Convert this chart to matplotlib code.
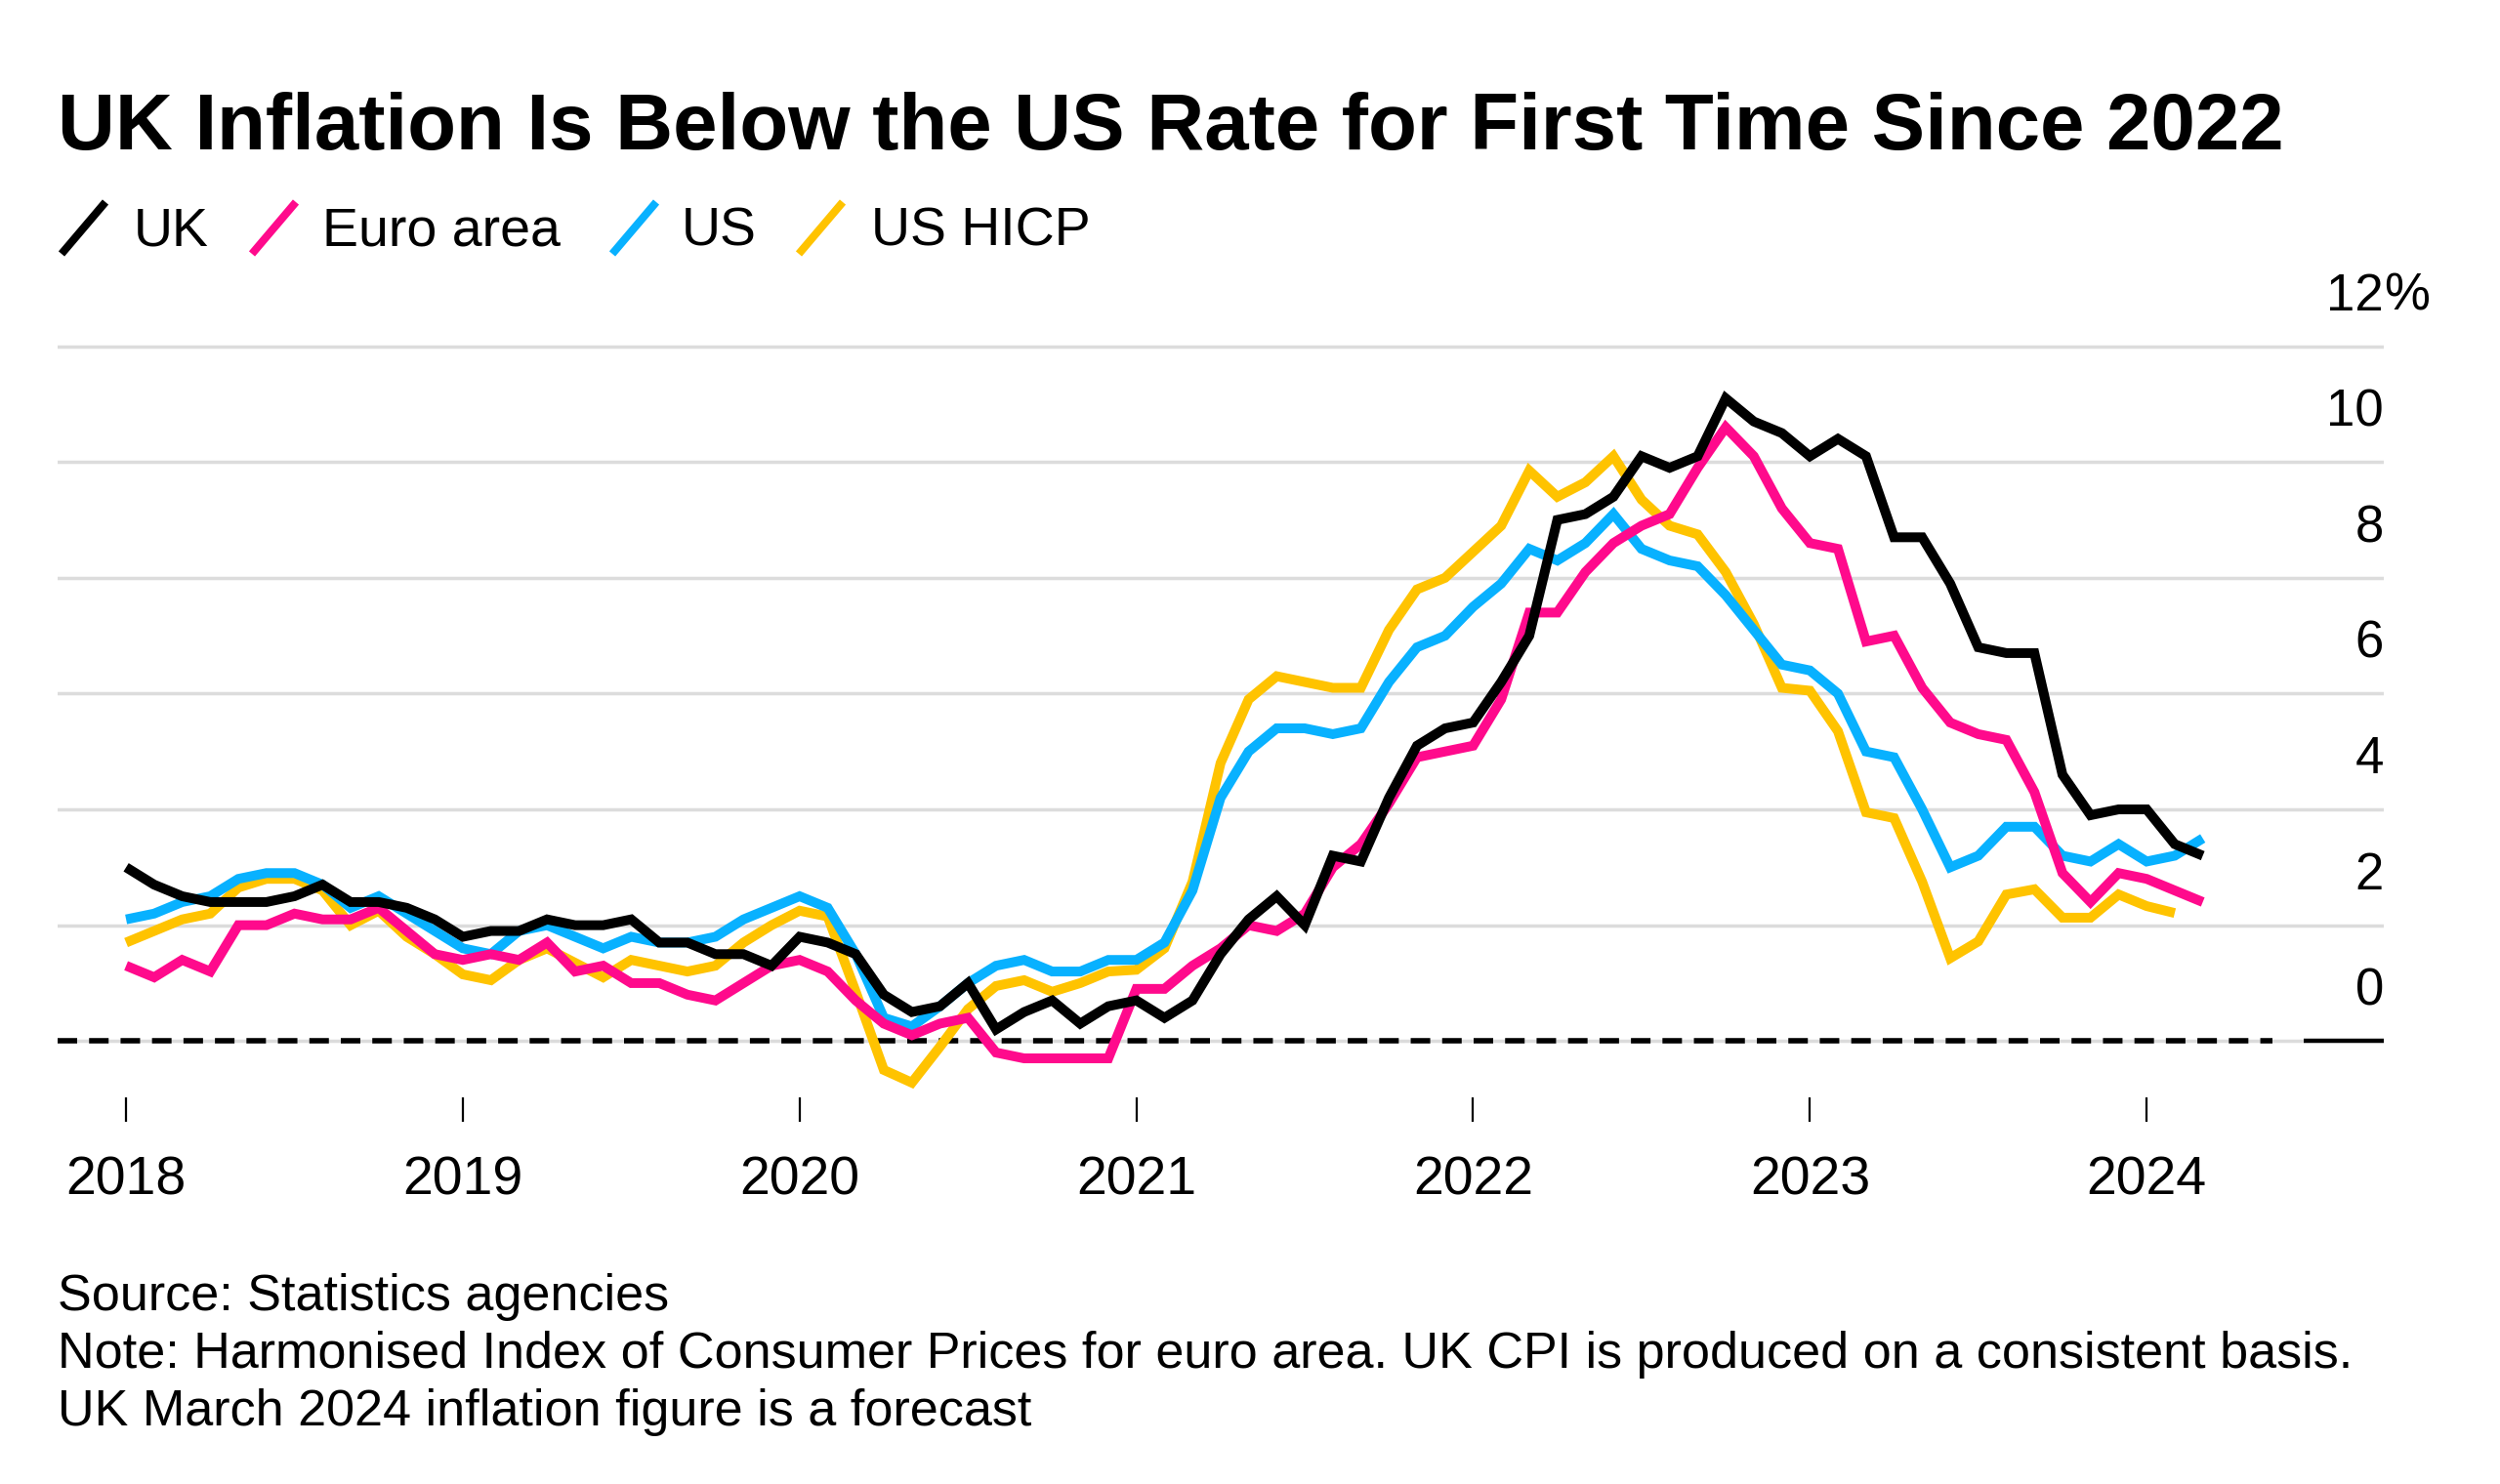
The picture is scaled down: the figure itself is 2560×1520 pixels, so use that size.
import matplotlib.pyplot as plt
from matplotlib.lines import Line2D

plt.rcParams['font.family'] = ['Liberation Sans', 'DejaVu Sans']

# monthly yoy inflation, Jan 2018 onwards
uk = [3.0, 2.7, 2.5, 2.4, 2.4, 2.4, 2.5, 2.7, 2.4, 2.4, 2.3, 2.1,
      1.8, 1.9, 1.9, 2.1, 2.0, 2.0, 2.1, 1.7, 1.7, 1.5, 1.5, 1.3,
      1.8, 1.7, 1.5, 0.8, 0.5, 0.6, 1.0, 0.2, 0.5, 0.7, 0.3, 0.6,
      0.7, 0.4, 0.7, 1.5, 2.1, 2.5, 2.0, 3.2, 3.1, 4.2, 5.1, 5.4,
      5.5, 6.2, 7.0, 9.0, 9.1, 9.4, 10.1, 9.9, 10.1, 11.1, 10.7, 10.5,
      10.1, 10.4, 10.1, 8.7, 8.7, 7.9, 6.8, 6.7, 6.7, 4.6, 3.9, 4.0,
      4.0, 3.4, 3.2]
euro = [1.3, 1.1, 1.4, 1.2, 2.0, 2.0, 2.2, 2.1, 2.1, 2.3, 1.9, 1.5,
        1.4, 1.5, 1.4, 1.7, 1.2, 1.3, 1.0, 1.0, 0.8, 0.7, 1.0, 1.3,
        1.4, 1.2, 0.7, 0.3, 0.1, 0.3, 0.4, -0.2, -0.3, -0.3, -0.3, -0.3,
        0.9, 0.9, 1.3, 1.6, 2.0, 1.9, 2.2, 3.0, 3.4, 4.1, 4.9, 5.0,
        5.1, 5.9, 7.4, 7.4, 8.1, 8.6, 8.9, 9.1, 9.9, 10.6, 10.1, 9.2,
        8.6, 8.5, 6.9, 7.0, 6.1, 5.5, 5.3, 5.2, 4.3, 2.9, 2.4, 2.9,
        2.8, 2.6, 2.4]
us = [2.1, 2.2, 2.4, 2.5, 2.8, 2.9, 2.9, 2.7, 2.3, 2.5, 2.2, 1.9,
      1.6, 1.5, 1.9, 2.0, 1.8, 1.6, 1.8, 1.7, 1.7, 1.8, 2.1, 2.3,
      2.5, 2.3, 1.5, 0.4, 0.25, 0.6, 1.0, 1.3, 1.4, 1.2, 1.2, 1.4,
      1.4, 1.7, 2.6, 4.2, 5.0, 5.4, 5.4, 5.3, 5.4, 6.2, 6.8, 7.0,
      7.5, 7.9, 8.5, 8.3, 8.6, 9.1, 8.5, 8.3, 8.2, 7.7, 7.1, 6.5,
      6.4, 6.0, 5.0, 4.9, 4.0, 3.0, 3.2, 3.7, 3.7, 3.2, 3.1, 3.4,
      3.1, 3.2, 3.5]
us_hicp = [1.7, 1.9, 2.1, 2.2, 2.65, 2.8, 2.8, 2.6, 2.0, 2.25, 1.8, 1.5,
           1.15, 1.05, 1.4, 1.6, 1.35, 1.1, 1.4, 1.3, 1.2, 1.3, 1.7, 2.0,
           2.25, 2.15, 0.85, -0.5, -0.72, -0.1, 0.55, 0.95, 1.05, 0.85, 1.0, 1.2,
           1.23, 1.6, 2.75, 4.8, 5.9, 6.3, 6.2, 6.1, 6.1, 7.1, 7.8, 8.0,
           8.45, 8.9, 9.85, 9.4, 9.65, 10.1, 9.35, 8.9, 8.75, 8.1, 7.2, 6.1,
           6.05, 5.35, 3.95, 3.85, 2.75, 1.43, 1.72, 2.53, 2.62, 2.13, 2.13, 2.53,
           2.33, 2.21]

series = [uk, euro, us, us_hicp]
names = ['UK', 'Euro area', 'US', 'US HICP']
colors = ['#000000', '#ff0a8c', '#08b1ff', '#ffc300']
zorders = [6, 5, 4, 3]

years = ['2018', '2019', '2020', '2021', '2022', '2023', '2024']
yticks = [0, 2, 4, 6, 8, 10, 12]

W, H = 2560, 1520
fig = plt.figure(figsize=(W / 100, H / 100), dpi=100)
ax = fig.add_axes([59 / W, 0.2443, (2441 - 59) / W, 0.5341])
ax.set_xlim(-2.44, 80.45)
ax.set_ylim(-1.39, 12.3)

for v in yticks:
    ax.axhline(v, color='#dcdcdc', lw=2.5, zorder=1)
    ax.annotate(str(v), xy=(1, v), xycoords=('axes fraction', 'data'),
                xytext=(0, 26.5), textcoords='offset points',
                ha='right', va='baseline', fontsize=38)
ax.annotate('%', xy=(1, yticks[-1]), xycoords=('axes fraction', 'data'),
            xytext=(0, 26.5), textcoords='offset points',
            ha='left', va='baseline', fontsize=38)

# zero line: dashed over the data span, solid under the labels
ax.plot([-2.44, 76.5], [0, 0], color='black', lw=4.0, dashes=(3.6, 2.2),
        zorder=2)
ax.plot([77.6, 80.45], [0, 0], color='black', lw=3.2, zorder=2,
        solid_capstyle='butt')

for s, c, z in zip(series, colors, zorders):
    ax.plot(range(len(s)), s, color=c, lw=7.2, zorder=z,
            solid_joinstyle='miter', solid_capstyle='butt')

ax.set_xticks([12 * i for i in range(len(years))])
ax.set_xticklabels(years, fontsize=40)
ax.tick_params(axis='x', direction='in', length=18, width=1.6, pad=25,
               color='black')
ax.set_yticks([])
for sp in ax.spines.values():
    sp.set_visible(False)

# title and legend
fig.text(59 / W, 1 - 153 / H, 'UK Inflation Is Below the US Rate for First Time Since 2022',
         fontsize=58.8, fontweight='bold', va='baseline', ha='left')

handle_x = [63, 258, 627, 818]
text_x = [137, 330, 698, 892]
for hx, tx, name, c in zip(handle_x, text_x, names, colors):
    fig.add_artist(Line2D([hx / W, (hx + 45) / W], [1 - 260 / H, 1 - 207 / H],
                          color=c, lw=5.8, solid_capstyle='butt'))
    fig.text(tx / W, 1 - 252 / H, name, fontsize=40, va='baseline', ha='left')

notes = ['Source: Statistics agencies',
         'Note: Harmonised Index of Consumer Prices for euro area. UK CPI is produced on a consistent basis.',
         'UK March 2024 inflation figure is a forecast']
for i, t in enumerate(notes):
    fig.text(59 / W, 1 - (1342 + 59 * i) / H, t, fontsize=37.5, va='baseline', ha='left')

fig.savefig('out.png', dpi=100, facecolor='white')
